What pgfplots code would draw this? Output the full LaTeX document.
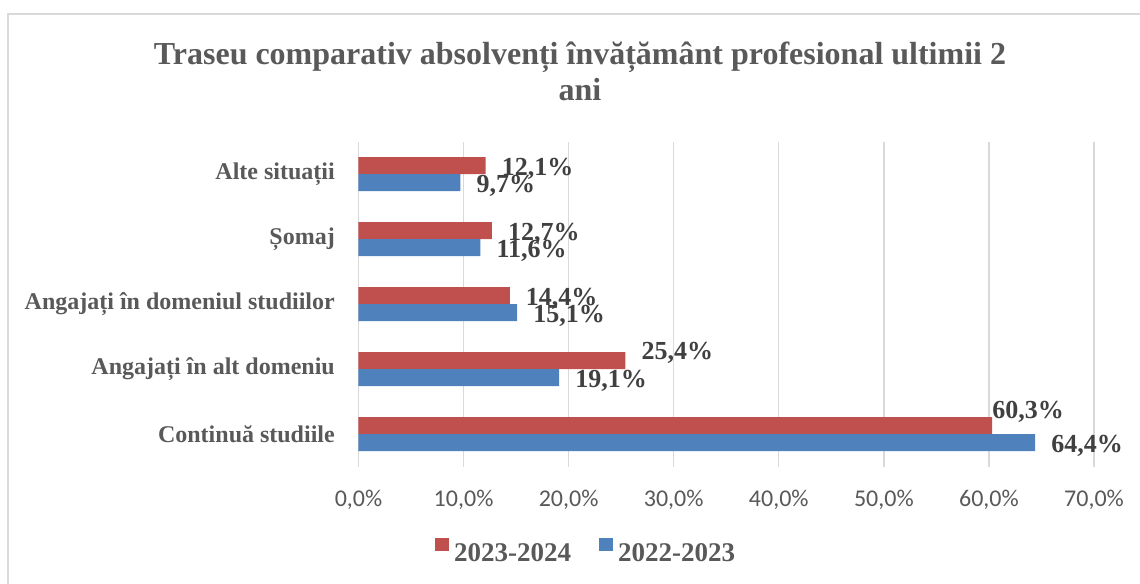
\documentclass[border=0pt]{standalone}
\usepackage{fontspec}
\setmainfont{Liberation Serif}
\newfontfamily\calibri{Carlito}
\usepackage{pgfplots}
\pgfplotsset{compat=1.18}
\usepackage{pgfplotstable}
\definecolor{cred}{HTML}{C0504D}
\definecolor{cblue}{HTML}{4F81BD}
\definecolor{txt}{HTML}{595959}
\definecolor{lbl}{HTML}{404040}
\definecolor{gridc}{HTML}{D9D9D9}

\pgfplotstableread{
y x dx dy
0 60.3 0 7
1 25.4 16 1
2 14.4 16 -10
3 12.7 16 -10
4 12.1 16 -10
}\redtab
\pgfplotstableread{
y x dx dy
0 64.4 16 -10
1 19.1 16 -10
2 15.1 16 -10
3 11.6 16 -10
4 9.7 16 -10
}\bluetab

\begin{document}
\begin{tikzpicture}
\useasboundingbox (-358.5bp,-117.3bp) rectangle (781.5bp,466.7bp);
\fill[white] (-358.5bp,-117.3bp) rectangle (781.5bp,466.7bp);
\draw[gridc, line width=1.2bp] (-350.5bp,-140bp) rectangle (800bp,452.7bp);
\begin{axis}[
  at={(0,0)}, anchor=south west, scale only axis,
  width=735.5bp, height=325bp,
  xbar, bar width=17bp,
  xmin=0, xmax=70, ymin=-0.5, ymax=4.5,
  clip=false,
  /pgf/number format/assume math mode=true,
  xtick={0,10,...,70},
  xticklabel={\pgfmathprintnumber[fixed,fixed zerofill,precision=1,use comma]{\tick}\%},
  xticklabel style={font=\calibri\fontsize{24bp}{28bp}\selectfont, text=txt, anchor=base, yshift=-40bp},
  ytick={0,1,2,3,4},
  yticklabels={Continuă studiile, Angajați în alt domeniu, Angajați în domeniul studiilor, Șomaj\hspace{6bp}, Alte situații},
  yticklabel style={font=\bfseries\fontsize{24bp}{28bp}\selectfont, text=txt, anchor=east, inner sep=0pt, xshift=-23.5bp},
  major tick length=0pt,
  axis y line*=left, axis x line*=bottom,
  x axis line style={draw=none},
  y axis line style={draw=gridc, line width=1.2bp, -},
  xmajorgrids, major grid style={draw=gridc, line width=1.3bp},
  legend columns=2,
  legend style={at={(0.308,-0.259)}, anchor=center, draw=none, fill=none,
    font=\bfseries\fontsize{27bp}{30bp}\selectfont, text=txt,
    /tikz/every odd column/.style={column sep=5bp},
    /tikz/every even column/.style={column sep=28bp},
    nodes={inner sep=0pt}},
]
\addplot[fill=cred, draw=none, bar shift=8.5bp, point meta=x,
  visualization depends on={\thisrow{dx}\as\dx},
  visualization depends on={\thisrow{dy}\as\dy},
  nodes near coords={\pgfmathprintnumber[fixed,fixed zerofill,precision=1,use comma]{\pgfplotspointmeta}\%},
  nodes near coords style={font=\bfseries\fontsize{26bp}{30bp}\selectfont, text=lbl, anchor=base west, inner sep=0pt, xshift=\dx bp, yshift=\dy bp},
  legend image code/.code={\fill[cred] (0bp,2.5bp) rectangle (14bp,15.5bp);}]
  table[x=x, y=y] {\redtab};
\addlegendentry{2023-2024}
\addplot[fill=cblue, draw=none, bar shift=-8.5bp, point meta=x,
  visualization depends on={\thisrow{dx}\as\dx},
  visualization depends on={\thisrow{dy}\as\dy},
  nodes near coords={\pgfmathprintnumber[fixed,fixed zerofill,precision=1,use comma]{\pgfplotspointmeta}\%},
  nodes near coords style={font=\bfseries\fontsize{26bp}{30bp}\selectfont, text=lbl, anchor=base west, inner sep=0pt, xshift=\dx bp, yshift=\dy bp},
  legend image code/.code={\fill[cblue] (0bp,2.5bp) rectangle (14bp,15.5bp);}]
  table[x=x, y=y] {\bluetab};
\addlegendentry{2022-2023}
\end{axis}
\node[anchor=base, font=\bfseries\fontsize{32bp}{36bp}\selectfont, text=txt, inner sep=0pt] at (221.5bp,401.7bp) {Traseu comparativ absolvenți învățământ profesional ultimii 2};
\node[anchor=base, font=\bfseries\fontsize{32bp}{36bp}\selectfont, text=txt, inner sep=0pt] at (221.5bp,365.7bp) {ani};
\end{tikzpicture}
\end{document}
